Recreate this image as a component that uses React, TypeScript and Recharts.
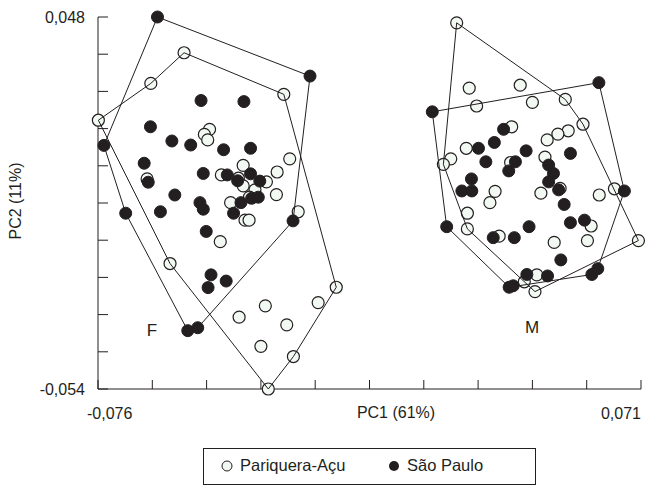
import { ScatterChart, Scatter, XAxis, YAxis, ReferenceDot, Label } from "recharts"

const INK = "#231f20"
const OPEN_FILL = "#f2f8f2"
const FONT = '"Liberation Sans", Arial, sans-serif'

const xTicks = [-0.076, -0.0613, -0.0466, -0.0319, -0.0172, -0.0025, 0.0122, 0.0269, 0.0416, 0.0563, 0.071]
const yTicks = [-0.054, -0.0438, -0.0336, -0.0234, -0.0132, -0.003, 0.0072, 0.0174, 0.0276, 0.0378, 0.048]

// females - Pariquera-Açu (open circles)
const femPariquera: [number, number][] = [
  [-0.0527, 0.0382], [-0.0617, 0.0298], [-0.0257, 0.0268], [-0.0759, 0.0197], [-0.0458, 0.0172],
  [-0.0472, 0.0158], [-0.0463, 0.0143], [-0.0241, 0.0091], [-0.0367, 0.0073], [-0.0275, 0.0055],
  [-0.0426, 0.0047], [-0.0627, 0.0036], [-0.038, 0.0038], [-0.0304, 0.0028], [-0.0367, 0.0017],
  [-0.0335, 0.0006], [-0.0277, -0.0007], [-0.0401, -0.0029], [-0.035, -0.0014], [-0.0218, -0.0054],
  [-0.0362, -0.0077], [-0.0351, -0.0077], [-0.0429, -0.0136], [-0.0565, -0.0196], [-0.0115, -0.0261],
  [-0.0164, -0.0303], [-0.0307, -0.0312], [-0.0378, -0.0343], [-0.0249, -0.0364], [-0.0319, -0.0423],
  [-0.0231, -0.0451], [-0.0299, -0.054],
]
const femPariqueraHull = [3, 1, 0, 2, 24, 30, 31, 23]

// females - São Paulo (filled circles)
const femSaoPaulo: [number, number][] = [
  [-0.0599, 0.048], [-0.0186, 0.0318], [-0.0481, 0.0251], [-0.0365, 0.0248], [-0.0618, 0.0179],
  [-0.0744, 0.0128], [-0.056, 0.014], [-0.0509, 0.0129], [-0.042, 0.0116], [-0.0347, 0.012],
  [-0.0635, 0.0079], [-0.0624, 0.0027], [-0.0475, 0.0051], [-0.041, 0.0047], [-0.0382, 0.0031],
  [-0.0347, 0.005], [-0.0322, 0.003], [-0.0552, -0.0008], [-0.0484, -0.0029], [-0.0373, -0.0029],
  [-0.0344, -0.0017], [-0.0326, -0.0014], [-0.0685, -0.0058], [-0.0591, -0.0054], [-0.0475, -0.0047],
  [-0.0393, -0.0058], [-0.0232, -0.0079], [-0.0467, -0.0108], [-0.0454, -0.0227], [-0.0413, -0.0244],
  [-0.0462, -0.0262], [-0.0517, -0.038], [-0.049, -0.0372],
]
const femSaoPauloHull = [0, 1, 26, 32, 31, 22, 5]

// males - Pariquera-Açu (open circles)
const malePariquera: [number, number][] = [
  [0.0211, 0.0464], [0.0245, 0.0285], [0.0383, 0.0293], [0.0265, 0.0236], [0.0416, 0.0246],
  [0.0505, 0.0254], [0.0553, 0.0186], [0.036, 0.0179], [0.0513, 0.0168], [0.0485, 0.0159],
  [0.0456, 0.0143], [0.0237, 0.012], [0.0195, 0.0091], [0.0175, 0.0076], [0.045, 0.0096],
  [0.0357, 0.0081], [0.0315, 0.0002], [0.0301, -0.0029], [0.0439, -0.0003], [0.0491, 0.001],
  [0.0597, -0.0008], [0.0638, 0.0009], [0.024, -0.0058], [0.024, -0.0101], [0.0575, -0.0093],
  [0.0326, -0.0121], [0.0475, -0.0138], [0.0565, -0.0133], [0.0703, -0.0133], [0.0428, -0.0227],
  [0.0394, -0.0246], [0.0423, -0.0273],
]
const malePariqueraHull = [0, 5, 6, 28, 31, 23, 13]

// males - São Paulo (filled circles)
const maleSaoPaulo: [number, number][] = [
  [0.0596, 0.03], [0.0145, 0.022], [0.0338, 0.0172], [0.0313, 0.0136], [0.027, 0.012],
  [0.0399, 0.0113], [0.0519, 0.0106], [0.029, 0.0083], [0.037, 0.0083], [0.0352, 0.0058],
  [0.046, 0.0074], [0.0473, 0.0051], [0.046, 0.0028], [0.0251, 0.0036], [0.0225, 0.0003],
  [0.0252, 0.0003], [0.0487, 0.0006], [0.0665, 0.0003], [0.0502, -0.0034], [0.0184, -0.0095],
  [0.0407, -0.0095], [0.0519, -0.0084], [0.0557, -0.0077], [0.031, -0.0125], [0.0367, -0.0125],
  [0.0493, -0.0186], [0.0401, -0.0226], [0.0457, -0.023], [0.0353, -0.0261], [0.0364, -0.0257],
  [0.0577, -0.0226], [0.0593, -0.021],
]
const maleSaoPauloHull = [1, 0, 17, 31, 30, 28, 19]

const groupLabels = [
  { text: "F", x: -0.0614, y: -0.0378 },
  { text: "M", x: 0.0415, y: -0.037 },
]

const toPoints = (pts: [number, number][]) => pts.map(([x, y]) => ({ x, y }))
const toHull = (pts: [number, number][], idx: number[]) =>
  [...idx, idx[0]].map((i) => ({ x: pts[i][0], y: pts[i][1] }))

const fmt = (v: number) => v.toFixed(3).replace(".", ",")

const XTick = (props: any) => {
  const { x, y, index, payload } = props
  const last = index === xTicks.length - 1
  return (
    <g>
      <line x1={x} y1={y} x2={x} y2={y - 9} stroke={INK} />
      {(index === 0 || last) && (
        <text x={last ? x : x - 11} y={y + 24} dy="0.355em" textAnchor={last ? "end" : "start"} fill={INK} fontSize={16} fontFamily={FONT}>
          {fmt(payload.value)}
        </text>
      )}
    </g>
  )
}

const YTick = (props: any) => {
  const { x, y, index, payload } = props
  const show = index === 0 || index === yTicks.length - 1
  return (
    <g>
      <line x1={x} y1={y} x2={x + 10} y2={y} stroke={INK} />
      {show && (
        <text x={x - 13} y={y} dy="0.355em" textAnchor="end" fill={INK} fontSize={16} fontFamily={FONT}>
          {fmt(payload.value)}
        </text>
      )}
    </g>
  )
}

const openDot = (p: any) => <circle cx={p.cx} cy={p.cy} r={6} fill={OPEN_FILL} stroke={INK} strokeWidth={1.2} />
const filledDot = (p: any) => <circle cx={p.cx} cy={p.cy} r={6} fill={INK} stroke={INK} strokeWidth={1} />
const noDot = () => <g />

export default function App() {
  const hulls = [
    toHull(femPariquera, femPariqueraHull),
    toHull(femSaoPaulo, femSaoPauloHull),
    toHull(malePariquera, malePariqueraHull),
    toHull(maleSaoPaulo, maleSaoPauloHull),
  ]

  return (
    <div style={{ position: "absolute", left: 0, top: 0, width: 655, height: 501, background: "#fff", fontFamily: FONT }}>
      <ScatterChart width={655} height={501} margin={{ top: 17, right: 14, bottom: 82, left: 38 }}>
        <XAxis
          type="number"
          dataKey="x"
          domain={[-0.076, 0.071]}
          ticks={xTicks}
          interval={0}
          height={30}
          tickSize={0}
          tickMargin={0}
          tick={<XTick />}
          axisLine={{ stroke: INK }}
        >
          <Label
            content={() => (
              <text x={396} y={412} dy="0.355em" textAnchor="middle" fill={INK} fontSize={16} fontFamily={FONT}>
                PC1 (61%)
              </text>
            )}
          />
        </XAxis>
        <YAxis
          type="number"
          dataKey="y"
          domain={[-0.054, 0.048]}
          ticks={yTicks}
          interval={0}
          width={60}
          tickSize={0}
          tickMargin={0}
          tick={<YTick />}
          axisLine={{ stroke: INK }}
        >
          <Label
            content={() => (
              <text x={15} y={201} dy="0.355em" textAnchor="middle" fill={INK} fontSize={16} fontFamily={FONT} transform="rotate(-90 15 201)">
                PC2 (11%)
              </text>
            )}
          />
        </YAxis>

        <Scatter data={toPoints(femPariquera)} shape={openDot} isAnimationActive={false} />
        <Scatter data={toPoints(malePariquera)} shape={openDot} isAnimationActive={false} />
        <Scatter data={toPoints(femSaoPaulo)} shape={filledDot} isAnimationActive={false} />
        <Scatter data={toPoints(maleSaoPaulo)} shape={filledDot} isAnimationActive={false} />

        {hulls.map((h, i) => (
          <Scatter key={i} data={h} shape={noDot} line={{ stroke: INK, strokeWidth: 1 }} isAnimationActive={false} />
        ))}

        {groupLabels.map((g) => (
          <ReferenceDot key={g.text} x={g.x} y={g.y} r={1} fill="none" stroke="none">
            <Label value={g.text} position="center" fill={INK} fontSize={17} fontFamily={FONT} />
          </ReferenceDot>
        ))}
      </ScatterChart>

      <div
        style={{
          position: "absolute",
          left: 203,
          top: 448,
          width: 333,
          height: 37,
          border: `1px solid ${INK}`,
          boxSizing: "border-box",
          color: INK,
          fontSize: 16.5,
        }}
      >
        <svg width={12} height={12} style={{ position: "absolute", left: 17, top: 11 }}>
          <circle cx={6} cy={6} r={5} fill={OPEN_FILL} stroke={INK} strokeWidth={1} />
        </svg>
        <span style={{ position: "absolute", left: 36, top: 7 }}>Pariquera-Açu</span>
        <svg width={12} height={12} style={{ position: "absolute", left: 184, top: 11 }}>
          <circle cx={6} cy={6} r={5} fill={INK} />
        </svg>
        <span style={{ position: "absolute", left: 203, top: 7 }}>São Paulo</span>
      </div>
    </div>
  )
}
